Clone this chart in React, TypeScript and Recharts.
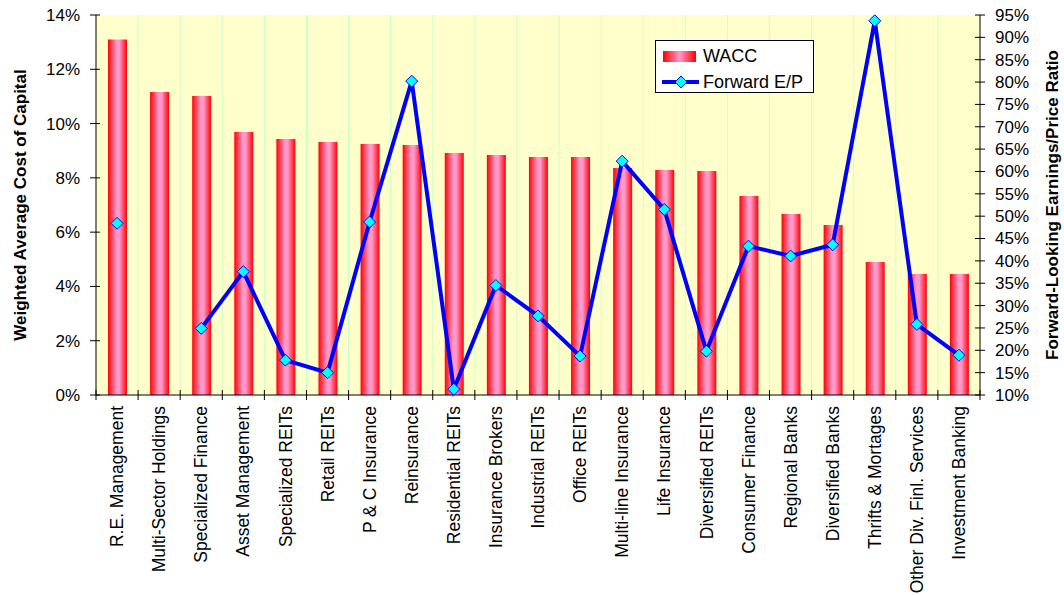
import { Bar, CartesianGrid, ComposedChart, Legend, Line, XAxis, YAxis } from 'recharts'

const sectors = [
  'R.E. Management',
  'Multi-Sector Holdings',
  'Specialized Finance',
  'Asset Management',
  'Specialized REITs',
  'Retail REITs',
  'P & C Insurance',
  'Reinsurance',
  'Residential REITs',
  'Insurance Brokers',
  'Industrial REITs',
  'Office REITs',
  'Multi-line Insurance',
  'Life Insurance',
  'Diversified REITs',
  'Consumer Finance',
  'Regional Banks',
  'Diversified Banks',
  'Thrifts & Mortages',
  'Other Div. Finl. Services',
  'Investment Banking',
]

// weighted average cost of capital per sector
const waccValues = [
  0.131, 0.1116, 0.1102, 0.0969, 0.0943, 0.0932, 0.0925, 0.0921, 0.0892, 0.0884, 0.0877,
  0.0877, 0.0836, 0.0829, 0.0825, 0.0733, 0.0667, 0.0626, 0.049, 0.0446, 0.0446,
]

// forward earnings / price, no estimate for multi-sector holdings
const forwardEP: (number | null)[] = [
  0.484, null, 0.249, 0.376, 0.178, 0.15, 0.487, 0.802, 0.113, 0.345, 0.277, 0.187, 0.623,
  0.515, 0.198, 0.433, 0.411, 0.436, 0.937, 0.258, 0.189,
]

const waccTicks = [0, 0.02, 0.04, 0.06, 0.08, 0.1, 0.12, 0.14]
const epTicks = [
  0.1, 0.15, 0.2, 0.25, 0.3, 0.35, 0.4, 0.45, 0.5, 0.55, 0.6, 0.65, 0.7, 0.75, 0.8, 0.85, 0.9,
  0.95,
]

const data = sectors.map((sector, i) => ({ sector, wacc: waccValues[i], ep: forwardEP[i] }))

const WIDTH = 1064
const HEIGHT = 595
const PLOT_LEFT = 96
const PLOT_RIGHT = 980
const BAND = (PLOT_RIGHT - PLOT_LEFT) / sectors.length

const pct = (v: number) => `${Math.round(v * 100)}%`

function BottomTick(props: any) {
  const { x, y, payload, index } = props
  const edge = x - BAND / 2
  return (
    <g>
      <line x1={edge} x2={edge} y1={y - 5} y2={y + 5} stroke="#000" />
      {index === sectors.length - 1 && (
        <line x1={x + BAND / 2} x2={x + BAND / 2} y1={y - 5} y2={y + 5} stroke="#000" />
      )}
      <text
        x={x}
        y={y + 11}
        transform={`rotate(-90, ${x}, ${y + 11})`}
        textAnchor="end"
        dy="0.35em"
        fontSize={17.5}
        fill="#000"
      >
        {payload.value}
      </text>
    </g>
  )
}

function TopTick(props: any) {
  const { x, y, index } = props
  const edge = x - BAND / 2
  return (
    <g>
      {index > 0 && <line x1={edge} x2={edge} y1={y - 4} y2={y + 4} stroke="#000" />}
    </g>
  )
}

function LeftTick(props: any) {
  const { x, y, payload } = props
  return (
    <g>
      <line x1={x - 6} x2={x + 4} y1={y} y2={y} stroke="#000" />
      <text x={x - 16} y={y} dy="0.35em" textAnchor="end" fontSize={17} fill="#000">
        {pct(payload.value)}
      </text>
    </g>
  )
}

function RightTick(props: any) {
  const { x, y, payload } = props
  return (
    <g>
      <line x1={x - 5} x2={x + 5} y1={y} y2={y} stroke="#000" />
      <text x={x + 15} y={y} dy="0.35em" textAnchor="start" fontSize={17} fill="#000">
        {pct(payload.value)}
      </text>
    </g>
  )
}

function AxisTitle({ viewBox, value, dx }: any) {
  const x = viewBox.x + dx
  const y = viewBox.y + viewBox.height / 2
  return (
    <text
      x={x}
      y={y}
      transform={`rotate(-90, ${x}, ${y})`}
      textAnchor="middle"
      dy="0.35em"
      fontSize={17}
      fontWeight="bold"
      fill="#000"
    >
      {value}
    </text>
  )
}

function Diamond(props: any) {
  const { cx, cy, index } = props
  if (cx == null || cy == null) return <g key={`dot-${index}`} />
  const r = 6
  return (
    <polygon
      key={`dot-${index}`}
      points={`${cx},${cy - r} ${cx + r},${cy} ${cx},${cy + r} ${cx - r},${cy}`}
      fill="#00ffff"
      stroke="#0000ff"
      strokeWidth={1}
    />
  )
}

function LegendBox() {
  return (
    <div
      style={{
        width: 157,
        height: 51,
        border: '1px solid #000',
        background: '#fff',
        fontSize: 18,
        color: '#000',
        lineHeight: '22px',
      }}
    >
      <div style={{ display: 'flex', alignItems: 'center', marginTop: 4 }}>
        <div
          style={{
            width: 33,
            height: 11,
            marginLeft: 7,
            marginRight: 7,
            background: 'linear-gradient(to right, #ff0000, #ff99cc 50%, #ff0000)',
          }}
        />
        <span>WACC</span>
      </div>
      <div style={{ display: 'flex', alignItems: 'center', marginTop: 4 }}>
        <svg width={40} height={14} style={{ marginLeft: 5, marginRight: 2 }}>
          <line x1={1} x2={38} y1={7} y2={7} stroke="#0000ff" strokeWidth={4} />
          <polygon points="20,1 26,7 20,13 14,7" fill="#00ffff" stroke="#0000ff" />
        </svg>
        <span>Forward E/P</span>
      </div>
    </div>
  )
}

export default function App() {
  return (
    <div
      style={{
        position: 'absolute',
        left: 0,
        top: 0,
        width: WIDTH,
        height: HEIGHT,
        background: '#fff',
        fontFamily: 'Arial, "Liberation Sans", sans-serif',
      }}
    >
      <ComposedChart
        width={WIDTH}
        height={HEIGHT}
        data={data}
        margin={{ top: 15, right: 0, bottom: 0, left: 0 }}
      >
        <defs>
          <linearGradient id="waccFill" x1="0" y1="0" x2="1" y2="0">
            <stop offset="0%" stopColor="#ff0000" />
            <stop offset="45%" stopColor="#ff99cc" />
            <stop offset="60%" stopColor="#ff99cc" />
            <stop offset="100%" stopColor="#ff0000" />
          </linearGradient>
        </defs>
        <CartesianGrid
          horizontal={false}
          fill="#ffffcc"
          stroke="#ccffcc"
          verticalCoordinatesGenerator={({ offset }: any) =>
            sectors.slice(1).map((_, i) => offset.left + ((i + 1) * offset.width) / sectors.length)
          }
        />
        <XAxis
          xAxisId="cat"
          dataKey="sector"
          height={200}
          interval={0}
          tickSize={0}
          tickMargin={0}
          stroke="#000"
          tick={<BottomTick />}
        />
        <XAxis
          xAxisId="top"
          dataKey="sector"
          orientation="top"
          height={0}
          interval={0}
          tickSize={0}
          tickMargin={0}
          stroke="#000"
          tick={<TopTick />}
        />
        <YAxis
          yAxisId="wacc"
          width={PLOT_LEFT}
          domain={[0, 0.14]}
          ticks={waccTicks}
          interval={0}
          tickSize={0}
          tickMargin={0}
          stroke="#000"
          tick={<LeftTick />}
          label={<AxisTitle value="Weighted Average Cost of Capital" dx={20} />}
        />
        <YAxis
          yAxisId="ep"
          orientation="right"
          width={WIDTH - PLOT_RIGHT}
          domain={[0.1, 0.95]}
          ticks={epTicks}
          interval={0}
          tickSize={0}
          tickMargin={0}
          stroke="#000"
          tick={<RightTick />}
          label={<AxisTitle value="Forward-Looking Earnings/Price Ratio" dx={72} />}
        />
        <Legend
          layout="horizontal"
          verticalAlign="middle"
          content={<LegendBox />}
          wrapperStyle={{ position: 'absolute', left: 655, top: 40, width: 159, height: 53 }}
        />
        <Bar
          xAxisId="cat"
          yAxisId="wacc"
          dataKey="wacc"
          name="WACC"
          fill="url(#waccFill)"
          barSize={19}
          isAnimationActive={false}
        />
        <Line
          xAxisId="cat"
          yAxisId="ep"
          dataKey="ep"
          name="Forward E/P"
          stroke="#0000ff"
          strokeWidth={4}
          dot={Diamond}
          activeDot={false}
          isAnimationActive={false}
        />
      </ComposedChart>
    </div>
  )
}
